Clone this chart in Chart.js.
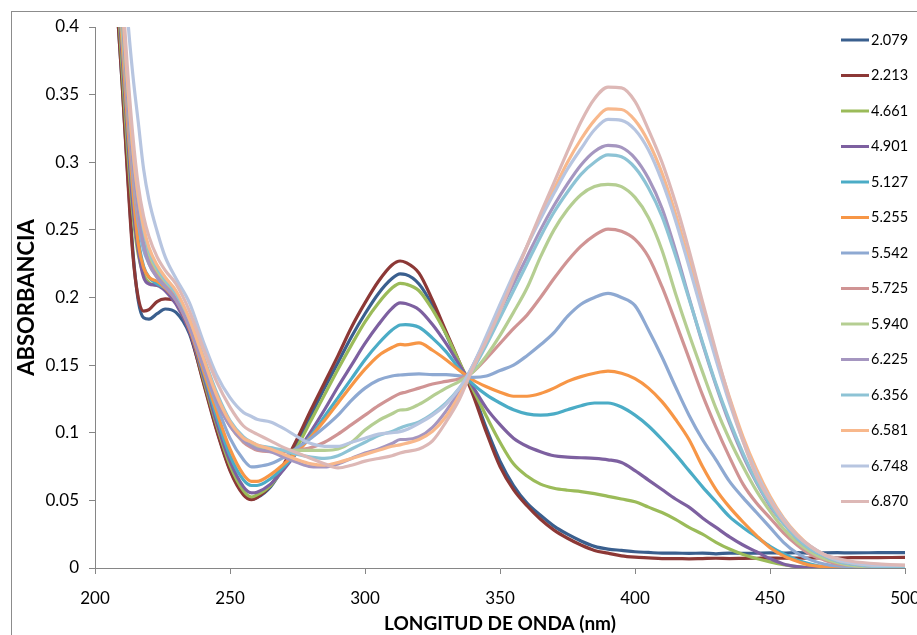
<!DOCTYPE html>
<html>
<head>
<meta charset="utf-8">
<title>Absorbancia vs longitud de onda</title>
<script src="https://cdn.jsdelivr.net/npm/chart.js@4/dist/chart.umd.min.js"></script>
<style>
    html, body { margin: 0; padding: 0; background: #fff; }
    #wrap { width: 917px; height: 635px; }
</style>
</head>
<body>
<div id="wrap"><canvas id="spectra" width="917" height="635"></canvas></div>
<script>
// Data
const wavelengths = [206, 210, 212, 214, 216, 218, 220, 223, 226, 230, 235, 240, 245, 250, 255, 258, 260, 265, 270, 275, 280, 285, 290, 295, 300, 305, 310, 313, 315, 320, 325, 330, 335, 340, 345, 350, 355, 360, 365, 370, 375, 380, 385, 390, 395, 400, 405, 410, 415, 420, 425, 430, 435, 440, 445, 450, 455, 460, 465, 470, 475, 480, 490, 500];

const phLabels = ['2.079', '2.213', '4.661', '4.901', '5.127', '5.255', '5.542', '5.725', '5.940', '6.225', '6.356', '6.581', '6.748', '6.870'];

const xTicks = [200, 250, 300, 350, 400, 450, 500];
const yTicks = [0, 0.05, 0.1, 0.15, 0.2, 0.25, 0.3, 0.35, 0.4];

const ph2079 = [0.48, 0.36, 0.295, 0.235, 0.198, 0.185, 0.184, 0.188, 0.1915, 0.189, 0.173, 0.139, 0.103, 0.073, 0.055, 0.051, 0.052, 0.06, 0.075, 0.093, 0.113, 0.133, 0.152, 0.171, 0.188, 0.203, 0.214, 0.2174, 0.217, 0.21, 0.194, 0.173, 0.151, 0.13, 0.103, 0.079, 0.061, 0.048, 0.039, 0.031, 0.025, 0.02, 0.016, 0.014, 0.013, 0.012, 0.0115, 0.011, 0.011, 0.0108, 0.011, 0.0105, 0.011, 0.0108, 0.011, 0.0112, 0.011, 0.0113, 0.011, 0.0112, 0.0113, 0.0112, 0.0113, 0.0114];
const ph2213 = [0.48, 0.36, 0.292, 0.232, 0.2, 0.19, 0.191, 0.197, 0.199, 0.197, 0.175, 0.138, 0.102, 0.072, 0.054, 0.0505, 0.052, 0.061, 0.077, 0.096, 0.117, 0.137, 0.157, 0.178, 0.196, 0.212, 0.224, 0.227, 0.226, 0.218, 0.198, 0.175, 0.152, 0.128, 0.1, 0.075, 0.058, 0.046, 0.036, 0.028, 0.022, 0.017, 0.013, 0.011, 0.009, 0.008, 0.0075, 0.007, 0.007, 0.0068, 0.007, 0.0072, 0.007, 0.0071, 0.0072, 0.0073, 0.0072, 0.0074, 0.0073, 0.0075, 0.0074, 0.0076, 0.0077, 0.0078];
const ph4661 = [0.5, 0.37, 0.31, 0.262, 0.232, 0.217, 0.211, 0.209, 0.208, 0.204, 0.178, 0.141, 0.106, 0.076, 0.057, 0.0525, 0.054, 0.061, 0.074, 0.09, 0.109, 0.128, 0.147, 0.165, 0.182, 0.196, 0.207, 0.2105, 0.21, 0.205, 0.191, 0.173, 0.152, 0.132, 0.112, 0.093, 0.077, 0.068, 0.062, 0.059, 0.0575, 0.0565, 0.055, 0.053, 0.051, 0.049, 0.045, 0.041, 0.036, 0.03, 0.025, 0.019, 0.014, 0.01, 0.007, 0.0045, 0.0025, 0.001, 0.0003, 0, 0, 0, 0, 0];
const ph4901 = [0.5, 0.38, 0.32, 0.268, 0.235, 0.215, 0.21, 0.209, 0.205, 0.195, 0.175, 0.143, 0.108, 0.079, 0.06, 0.0555, 0.056, 0.062, 0.073, 0.086, 0.101, 0.117, 0.134, 0.15, 0.166, 0.18, 0.192, 0.196, 0.1955, 0.191, 0.18, 0.166, 0.15, 0.134, 0.118, 0.106, 0.096, 0.09, 0.086, 0.083, 0.082, 0.0815, 0.081, 0.08, 0.078, 0.072, 0.065, 0.058, 0.051, 0.045, 0.037, 0.03, 0.023, 0.017, 0.012, 0.007, 0.003, 0.001, 0, 0, 0, 0, 0, 0];
const ph5127 = [0.52, 0.39, 0.33, 0.278, 0.243, 0.223, 0.215, 0.21, 0.207, 0.2, 0.178, 0.146, 0.112, 0.083, 0.065, 0.061, 0.061, 0.066, 0.075, 0.086, 0.098, 0.112, 0.126, 0.14, 0.154, 0.166, 0.176, 0.1797, 0.18, 0.178, 0.17, 0.16, 0.147, 0.136, 0.128, 0.122, 0.117, 0.114, 0.113, 0.114, 0.117, 0.12, 0.122, 0.122, 0.119, 0.113, 0.105, 0.095, 0.084, 0.072, 0.06, 0.049, 0.038, 0.03, 0.023, 0.016, 0.0105, 0.006, 0.003, 0.001, 0.0005, 0, 0, 0];
const ph5255 = [0.52, 0.39, 0.33, 0.28, 0.24, 0.222, 0.215, 0.212, 0.207, 0.198, 0.177, 0.147, 0.116, 0.088, 0.069, 0.064, 0.064, 0.069, 0.077, 0.086, 0.097, 0.109, 0.122, 0.135, 0.147, 0.157, 0.163, 0.1654, 0.165, 0.1665, 0.161, 0.154, 0.146, 0.139, 0.134, 0.13, 0.127, 0.127, 0.129, 0.133, 0.138, 0.1415, 0.144, 0.1455, 0.144, 0.14, 0.133, 0.123, 0.11, 0.095, 0.075, 0.058, 0.045, 0.034, 0.024, 0.015, 0.009, 0.005, 0.002, 0.001, 0, 0, 0, 0];
const ph5542 = [0.53, 0.4, 0.34, 0.29, 0.255, 0.235, 0.225, 0.215, 0.208, 0.2, 0.18, 0.15, 0.121, 0.096, 0.08, 0.0747, 0.075, 0.077, 0.082, 0.089, 0.096, 0.104, 0.113, 0.124, 0.133, 0.139, 0.142, 0.1427, 0.143, 0.1435, 0.143, 0.143, 0.142, 0.141, 0.142, 0.146, 0.15, 0.157, 0.165, 0.174, 0.186, 0.195, 0.2, 0.203, 0.2, 0.194, 0.176, 0.156, 0.134, 0.113, 0.095, 0.08, 0.064, 0.052, 0.041, 0.03, 0.019, 0.011, 0.006, 0.003, 0.0015, 0.001, 0, 0];
const ph5725 = [0.53, 0.4, 0.345, 0.295, 0.26, 0.24, 0.228, 0.218, 0.21, 0.2, 0.18, 0.152, 0.125, 0.105, 0.093, 0.089, 0.087, 0.086, 0.086, 0.087, 0.089, 0.093, 0.099, 0.106, 0.113, 0.12, 0.126, 0.129, 0.13, 0.133, 0.136, 0.138, 0.14, 0.145, 0.155, 0.166, 0.177, 0.187, 0.2, 0.214, 0.227, 0.238, 0.246, 0.2506, 0.249, 0.243, 0.23, 0.208, 0.182, 0.155, 0.128, 0.104, 0.082, 0.062, 0.048, 0.037, 0.026, 0.017, 0.01, 0.006, 0.003, 0.002, 0.001, 0.001];
const ph5940 = [0.53, 0.4, 0.35, 0.3, 0.265, 0.245, 0.232, 0.22, 0.212, 0.203, 0.183, 0.155, 0.127, 0.106, 0.094, 0.091, 0.089, 0.088, 0.087, 0.087, 0.087, 0.087, 0.088, 0.093, 0.102, 0.109, 0.114, 0.1168, 0.117, 0.121, 0.127, 0.133, 0.138, 0.145, 0.157, 0.172, 0.189, 0.207, 0.23, 0.25, 0.265, 0.276, 0.282, 0.2837, 0.282, 0.274, 0.259, 0.235, 0.203, 0.173, 0.145, 0.118, 0.095, 0.075, 0.057, 0.042, 0.029, 0.019, 0.012, 0.007, 0.004, 0.002, 0.001, 0.001];
const ph6225 = [0.54, 0.41, 0.35, 0.3, 0.265, 0.24, 0.225, 0.215, 0.208, 0.198, 0.178, 0.15, 0.124, 0.105, 0.094, 0.09, 0.088, 0.086, 0.082, 0.078, 0.075, 0.0747, 0.077, 0.081, 0.085, 0.088, 0.092, 0.095, 0.095, 0.097, 0.104, 0.116, 0.131, 0.15, 0.17, 0.19, 0.21, 0.23, 0.25, 0.268, 0.284, 0.298, 0.308, 0.3125, 0.311, 0.303, 0.288, 0.266, 0.235, 0.2, 0.166, 0.135, 0.107, 0.083, 0.063, 0.046, 0.033, 0.022, 0.014, 0.009, 0.005, 0.003, 0.001, 0.001];
const ph6356 = [0.55, 0.42, 0.36, 0.31, 0.275, 0.25, 0.235, 0.222, 0.213, 0.203, 0.184, 0.157, 0.13, 0.109, 0.097, 0.093, 0.091, 0.089, 0.087, 0.084, 0.082, 0.081, 0.083, 0.088, 0.093, 0.098, 0.101, 0.1035, 0.105, 0.108, 0.114, 0.122, 0.133, 0.147, 0.165, 0.185, 0.205, 0.225, 0.245, 0.263, 0.278, 0.291, 0.3, 0.3054, 0.304, 0.296, 0.281, 0.26, 0.231, 0.199, 0.167, 0.136, 0.109, 0.085, 0.064, 0.047, 0.033, 0.022, 0.014, 0.009, 0.005, 0.003, 0.001, 0.001];
const ph6581 = [0.55, 0.42, 0.36, 0.31, 0.275, 0.252, 0.237, 0.224, 0.215, 0.205, 0.184, 0.156, 0.128, 0.108, 0.096, 0.093, 0.091, 0.088, 0.084, 0.08, 0.077, 0.076, 0.078, 0.081, 0.084, 0.087, 0.09, 0.091, 0.092, 0.095, 0.101, 0.112, 0.128, 0.148, 0.17, 0.193, 0.215, 0.238, 0.26, 0.28, 0.3, 0.317, 0.331, 0.3394, 0.339, 0.331, 0.315, 0.292, 0.262, 0.228, 0.193, 0.158, 0.126, 0.097, 0.073, 0.053, 0.037, 0.025, 0.016, 0.01, 0.006, 0.004, 0.002, 0.002];
const ph6748 = [0.62, 0.48, 0.41, 0.365, 0.33, 0.295, 0.272, 0.249, 0.23, 0.214, 0.196, 0.168, 0.143, 0.126, 0.115, 0.112, 0.11, 0.108, 0.103, 0.097, 0.092, 0.09, 0.09, 0.093, 0.096, 0.099, 0.1, 0.1008, 0.102, 0.107, 0.113, 0.121, 0.133, 0.15, 0.172, 0.195, 0.217, 0.238, 0.258, 0.277, 0.295, 0.31, 0.324, 0.3317, 0.331, 0.324, 0.309, 0.286, 0.257, 0.223, 0.188, 0.154, 0.122, 0.094, 0.07, 0.051, 0.036, 0.024, 0.016, 0.01, 0.006, 0.004, 0.002, 0.002];
const ph6870 = [0.56, 0.43, 0.37, 0.32, 0.283, 0.26, 0.245, 0.23, 0.22, 0.21, 0.19, 0.163, 0.138, 0.119, 0.105, 0.101, 0.099, 0.094, 0.089, 0.085, 0.081, 0.077, 0.074, 0.076, 0.079, 0.081, 0.083, 0.085, 0.086, 0.088, 0.094, 0.108, 0.125, 0.148, 0.168, 0.19, 0.214, 0.238, 0.262, 0.285, 0.308, 0.33, 0.347, 0.3555, 0.355, 0.345, 0.324, 0.3, 0.27, 0.235, 0.197, 0.16, 0.125, 0.094, 0.068, 0.05, 0.035, 0.024, 0.016, 0.01, 0.007, 0.005, 0.003, 0.002];

const seriesValues = [ph2079, ph2213, ph4661, ph4901, ph5127, ph5255, ph5542, ph5725, ph5940, ph6225, ph6356, ph6581, ph6748, ph6870];

const lineColors = ['#3A5F8E', '#8C3836', '#9BBB59', '#7D60A0', '#4BACC6', '#F79646', '#8EA9D2', '#D09494', '#B5CE92', '#A596C0', '#8DC3D5', '#F8B88C', '#B7C5E0', '#DDB8B6'];

// Chart
const axisGray = '#868686';
const fontFamily = 'Lato, "Noto Sans", sans-serif';

// frame around the whole chart
const chartFrame = {
    id: 'chartFrame',
    beforeDraw(chart)
    {
        const c = chart.ctx;
        c.save();
        c.fillStyle = '#fff';
        c.fillRect(0, 0, chart.width, chart.height);
        c.strokeStyle = '#8C8C8C';
        c.lineWidth = 1;
        c.strokeRect(11.5, 11.5, chart.width + 40, chart.height + 40);
        c.restore();
    }
};

// legend drawn over the right side of the plot, like Excel does
const overlayLegend = {
    id: 'overlayLegend',
    afterDraw(chart)
    {
        const c = chart.ctx;
        c.save();
        c.font = '14.5px ' + fontFamily;
        c.textBaseline = 'middle';
        c.textAlign = 'left';
        chart.data.datasets.forEach((ds, i) =>
        {
            const y = 40 + i * 35.5;
            c.strokeStyle = ds.borderColor;
            c.lineWidth = 3;
            c.beginPath();
            c.moveTo(841, y);
            c.lineTo(869, y);
            c.stroke();
            c.fillStyle = '#000';
            c.fillText(ds.label, 871, y);
        });
        c.restore();
    }
};

const createChart = () =>
{
    const ctx = document.getElementById('spectra');

    const datasets = seriesValues.map((values, i) => ({
        label: phLabels[i]
        ,data: values.map((v, k) => ({x: wavelengths[k], y: v}))
        ,borderColor: lineColors[i]
        ,backgroundColor: lineColors[i]
        ,borderWidth: 3.2
        ,pointRadius: 0
        ,cubicInterpolationMode: 'monotone'
        ,fill: false
        ,order: seriesValues.length - i
    }));

    new Chart(ctx,
    {
        type: 'line'
        ,data: {datasets: datasets}
        ,options:
        {
            responsive: false
            ,animation: false
            ,devicePixelRatio: 1
            ,parsing: false
            ,layout: {padding: {left: 11, top: 27, right: 12, bottom: 0}}
            ,plugins: {legend: {display: false}, tooltip: {enabled: false}}
            ,scales:
            {
                x: {
                    type: 'linear'
                    ,min: 200
                    ,max: 500
                    ,afterBuildTicks: (s) => { s.ticks = xTicks.map(v => ({value: v})); }
                    ,afterFit: (s) => { s.height = 67; s.paddingLeft = 0; s.paddingRight = 0; }
                    ,grid: {drawOnChartArea: false, drawTicks: true, tickLength: 6, color: axisGray}
                    ,border: {display: true, color: axisGray, width: 1}
                    ,ticks: {color: '#000', font: {family: fontFamily, size: 17}, padding: 14, maxRotation: 0, autoSkip: false}
                    ,title: {display: true, text: 'LONGITUD DE ONDA (nm)', color: '#000', font: {family: fontFamily, size: 19, weight: 'bold'}, padding: {top: 0, bottom: 0}}
                }
                ,y: {
                    min: 0
                    ,max: 0.4
                    ,afterBuildTicks: (s) => { s.ticks = yTicks.map(v => ({value: v})); }
                    ,afterFit: (s) => { s.width = 84; s.paddingTop = 0; s.paddingBottom = 0; }
                    ,grid: {drawOnChartArea: false, drawTicks: true, tickLength: 6, color: axisGray}
                    ,border: {display: true, color: axisGray, width: 1}
                    ,ticks: {color: '#000', font: {family: fontFamily, size: 17}, padding: 10, autoSkip: false, callback: (v) => String(+Number(v).toFixed(2))}
                    ,title: {display: true, text: 'ABSORBANCIA', color: '#000', font: {family: fontFamily, size: 22, weight: 'bold'}, padding: {top: 3, bottom: 0}}
                }
            }
        }
        ,plugins: [chartFrame, overlayLegend]
    });
};
createChart();
</script>
</body>
</html>
